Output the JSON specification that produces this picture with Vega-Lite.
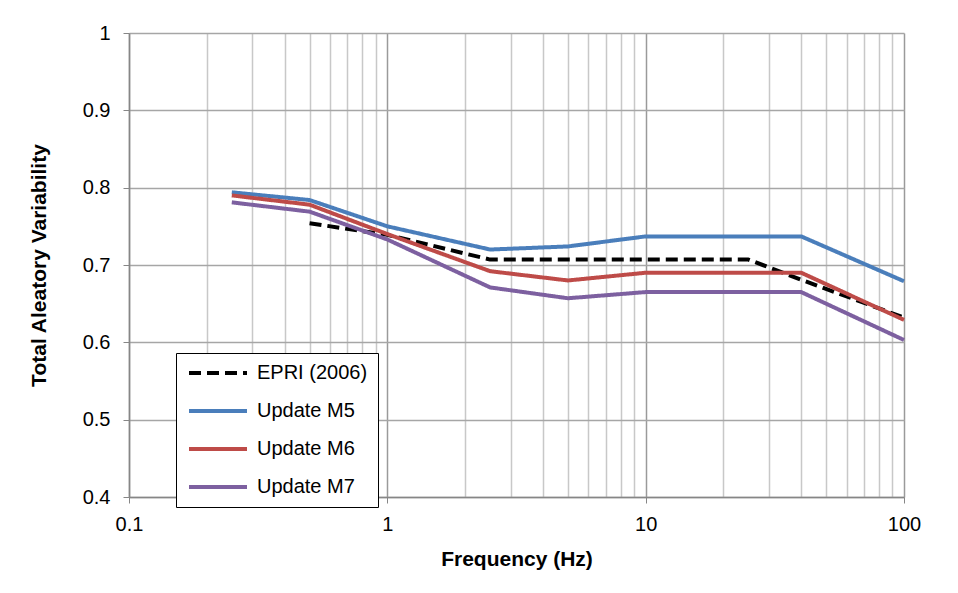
{
  "$schema": "https://vega.github.io/schema/vega-lite/v6.json",
  "autosize": {"type": "none"},
  "padding": {"left": 129, "top": 33, "right": 54, "bottom": 96},
  "width": 775,
  "height": 464,
  "background": "white",
  "config": {
    "font": "Liberation Sans",
    "view": {"stroke": null}
  },
  "data": {
    "values": [
      {"f": 0.5, "v": 0.754, "s": "EPRI (2006)"},
      {"f": 1, "v": 0.739, "s": "EPRI (2006)"},
      {"f": 2.5, "v": 0.707, "s": "EPRI (2006)"},
      {"f": 5, "v": 0.707, "s": "EPRI (2006)"},
      {"f": 10, "v": 0.707, "s": "EPRI (2006)"},
      {"f": 25, "v": 0.707, "s": "EPRI (2006)"},
      {"f": 40, "v": 0.681, "s": "EPRI (2006)"},
      {"f": 100, "v": 0.632, "s": "EPRI (2006)"},
      {"f": 0.25, "v": 0.794, "s": "Update M5"},
      {"f": 0.5, "v": 0.784, "s": "Update M5"},
      {"f": 1, "v": 0.750, "s": "Update M5"},
      {"f": 2.5, "v": 0.720, "s": "Update M5"},
      {"f": 5, "v": 0.724, "s": "Update M5"},
      {"f": 10, "v": 0.737, "s": "Update M5"},
      {"f": 40, "v": 0.737, "s": "Update M5"},
      {"f": 100, "v": 0.679, "s": "Update M5"},
      {"f": 0.25, "v": 0.790, "s": "Update M6"},
      {"f": 0.5, "v": 0.778, "s": "Update M6"},
      {"f": 1, "v": 0.740, "s": "Update M6"},
      {"f": 2.5, "v": 0.692, "s": "Update M6"},
      {"f": 5, "v": 0.680, "s": "Update M6"},
      {"f": 10, "v": 0.690, "s": "Update M6"},
      {"f": 40, "v": 0.690, "s": "Update M6"},
      {"f": 100, "v": 0.629, "s": "Update M6"},
      {"f": 0.25, "v": 0.781, "s": "Update M7"},
      {"f": 0.5, "v": 0.769, "s": "Update M7"},
      {"f": 1, "v": 0.733, "s": "Update M7"},
      {"f": 2.5, "v": 0.671, "s": "Update M7"},
      {"f": 5, "v": 0.657, "s": "Update M7"},
      {"f": 10, "v": 0.665, "s": "Update M7"},
      {"f": 40, "v": 0.665, "s": "Update M7"},
      {"f": 100, "v": 0.603, "s": "Update M7"}
    ]
  },
  "mark": {"type": "line", "strokeWidth": 4, "strokeCap": "butt", "strokeJoin": "round"},
  "encoding": {
    "x": {
      "field": "f",
      "type": "quantitative",
      "scale": {"type": "log", "domain": [0.1, 100], "nice": false},
      "axis": {
        "title": "Frequency (Hz)",
        "titleFont": "Liberation Sans",
        "titleFontSize": 21,
        "titleFontWeight": "bold",
        "titleColor": "black",
        "titlePadding": 14,
        "values": [0.1, 0.2, 0.3, 0.4, 0.5, 0.6, 0.7, 0.8, 0.9, 1, 2, 3, 4, 5, 6, 7, 8, 9, 10, 20, 30, 40, 50, 60, 70, 80, 90, 100],
        "labelExpr": "indexof([0.1,1,10,100], datum.value) >= 0 ? format(datum.value, '') : ''",
        "labelFontSize": 20,
        "labelColor": "black",
        "labelPadding": 11,
        "labelFlush": false,
        "labelOverlap": false,
        "domainColor": "#868686",
        "domainWidth": 1.5,
        "tickColor": "#868686",
        "tickSize": {"condition": {"test": "indexof([0.1,1,10,100], datum.value) >= 0", "value": 6}, "value": 0},
        "grid": true,
        "gridColor": {"condition": {"test": "indexof([0.1,1,10,100], datum.value) >= 0", "value": "#9a9a9a"}, "value": "#c8c8c8"},
        "gridWidth": 1.5
      }
    },
    "y": {
      "field": "v",
      "type": "quantitative",
      "scale": {"domain": [0.4, 1], "nice": false, "zero": false},
      "axis": {
        "title": "Total Aleatory Variability",
        "titleFont": "Liberation Sans",
        "titleFontSize": 21,
        "titleFontWeight": "bold",
        "titleColor": "black",
        "titlePadding": 33,
        "values": [0.4, 0.5, 0.6, 0.7, 0.8, 0.9, 1],
        "labelExpr": "datum.value == 1 ? '1' : format(datum.value, '.1f')",
        "labelFontSize": 20,
        "labelColor": "black",
        "labelPadding": 13,
        "domainColor": "#868686",
        "domainWidth": 1.5,
        "tickColor": "#868686",
        "tickSize": 6,
        "gridColor": "#a6a6a6",
        "gridWidth": 1.5
      }
    },
    "color": {
      "field": "s",
      "type": "nominal",
      "scale": {
        "domain": ["EPRI (2006)", "Update M5", "Update M6", "Update M7"],
        "range": ["#000000", "#4a7ebb", "#be4b48", "#7d60a0"]
      },
      "legend": {
        "orient": "none",
        "legendX": 47,
        "legendY": 320,
        "title": null,
        "direction": "vertical",
        "strokeColor": "black",
        "fillColor": "white",
        "padding": 10,
        "labelFontSize": 20,
        "labelColor": "black",
        "labelFont": "Liberation Sans",
        "symbolType": "M-3.625,0H3.625",
        "symbolSize": 256,
        "symbolStrokeWidth": 4,
        "symbolOffset": 22,
        "rowPadding": 18,
        "labelOffset": 29
      }
    },
    "strokeDash": {
      "field": "s",
      "type": "nominal",
      "scale": {
        "domain": ["EPRI (2006)", "Update M5", "Update M6", "Update M7"],
        "range": [[12, 6], [1, 0], [1, 0], [1, 0]]
      },
      "legend": null
    },
    "order": {"field": "f", "type": "quantitative"}
  }
}
